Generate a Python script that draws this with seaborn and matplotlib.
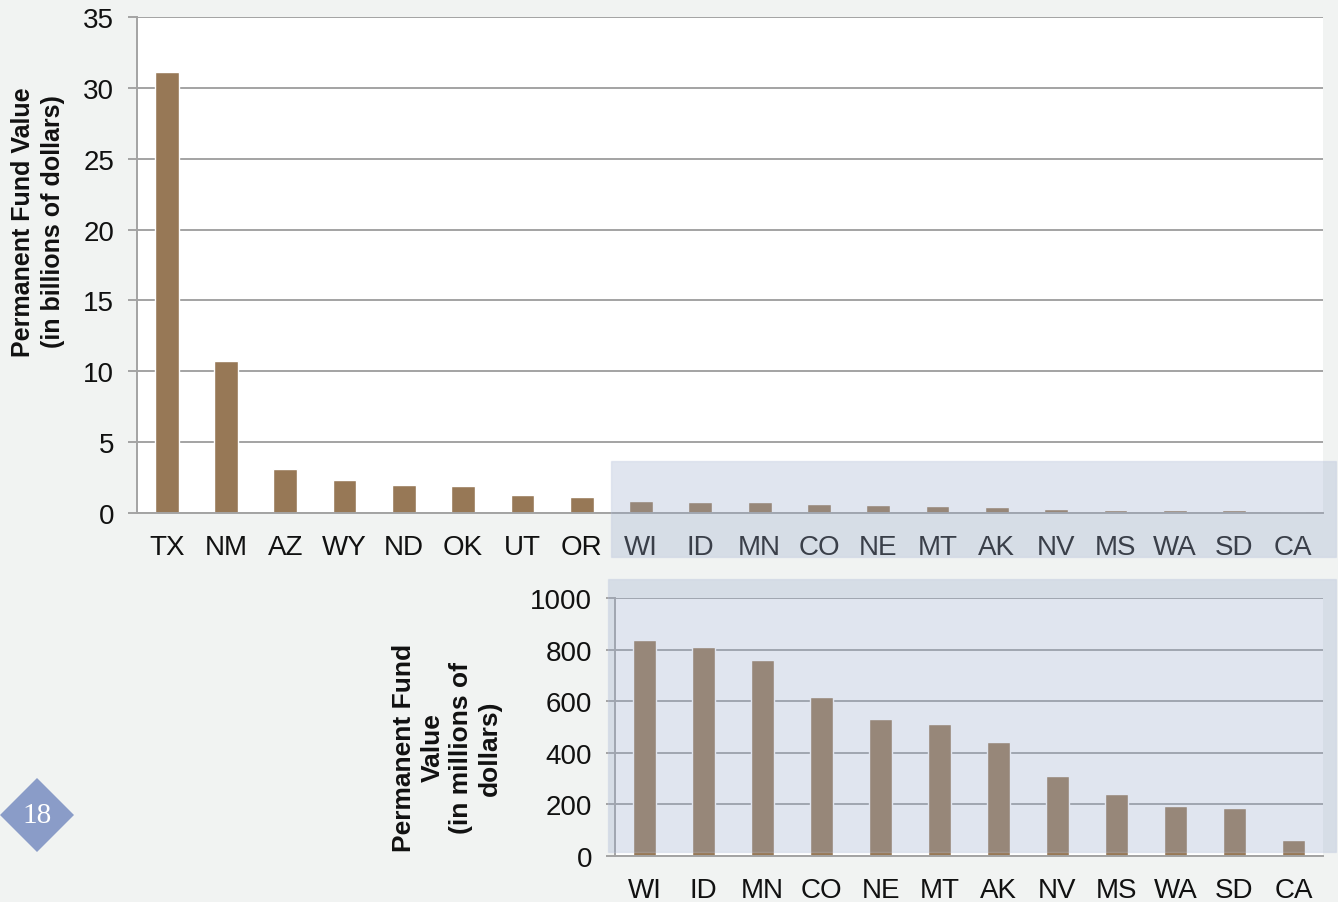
import matplotlib
matplotlib.use("Agg")
import matplotlib.pyplot as plt
import matplotlib.patches as mpatches
from matplotlib.ticker import FixedLocator
import numpy as np
import pandas as pd
import seaborn as sns

# --- data ---
top_states = ["TX", "NM", "AZ", "WY", "ND", "OK", "UT", "OR",
              "WI", "ID", "MN", "CO", "NE", "MT", "AK", "NV", "MS", "WA", "SD", "CA"]
top_values = [31.1, 10.7, 3.1, 2.3, 2.0, 1.9, 1.25, 1.15,
              0.837, 0.81, 0.76, 0.616, 0.532, 0.513, 0.443, 0.309, 0.241, 0.193, 0.187, 0.063]

bottom_states = ["WI", "ID", "MN", "CO", "NE", "MT", "AK", "NV", "MS", "WA", "SD", "CA"]
bottom_values = [837, 810, 760, 616, 532, 513, 443, 309, 241, 193, 187, 63]

top_ticks = [0, 5, 10, 15, 20, 25, 30, 35]
bottom_ticks = [0, 200, 400, 600, 800, 1000]

BG = "#f1f3f2"
BAR = "#977856"
GRID = "#a3a3a3"
OVERLAY = "#9aaccd"

sns.set_theme(style="white")
plt.rcParams["font.family"] = ["Liberation Sans", "DejaVu Sans"]

W, H = 1338, 903
fig = plt.figure(figsize=(W / 100, H / 100), dpi=100, facecolor=BG)


def px_axes(left, top, right, bottom):
    return fig.add_axes([left / W, (H - bottom) / H, (right - left) / W, (bottom - top) / H])


def style_axes(ax, n, ymax, ticks):
    ax.set_facecolor("white")
    ax.set_xlim(-0.5, n - 0.5)
    ax.set_ylim(0, ymax)
    ax.set_yticks(ticks)
    ax.yaxis.grid(True, color=GRID, linewidth=1.4)
    ax.set_axisbelow(True)
    for s in ["top", "right"]:
        ax.spines[s].set_visible(False)
    for s in ["left", "bottom"]:
        ax.spines[s].set_color(GRID)
        ax.spines[s].set_linewidth(1.4)
    ax.xaxis.set_minor_locator(FixedLocator(np.arange(-0.5, n, 1.0)))
    ax.tick_params(axis="x", which="major", length=0, pad=15, labelsize=20, labelcolor="#111111")
    ax.tick_params(axis="x", which="minor", length=4.5, width=1.4, color=GRID, direction="out")
    ax.tick_params(axis="y", length=6.5, width=1.4, color=GRID, direction="out",
                   pad=10, labelsize=20, labelcolor="#111111", left=True)
    ax.set_xlabel("")
    ax.set_ylabel("")


# top chart: all states, billions
ax1 = px_axes(137, 18, 1323, 514)
df_top = pd.DataFrame({"state": top_states, "value": top_values})
sns.barplot(data=df_top, x="state", y="value", color=BAR, saturation=1, width=0.4, ax=ax1)
style_axes(ax1, len(top_states), 35, top_ticks)

fig.text(38 / W, (H - 222) / H, "Permanent Fund Value\n(in billions of dollars)",
         rotation=90, ha="center", va="center", fontsize=18, fontweight="bold",
         multialignment="center", linespacing=1.3, color="#111111")

# bottom chart: smaller states, millions
ax2 = px_axes(615, 599, 1323, 857)
df_bot = pd.DataFrame({"state": bottom_states, "value": bottom_values})
sns.barplot(data=df_bot, x="state", y="value", color=BAR, saturation=1, width=0.4, ax=ax2)
style_axes(ax2, len(bottom_states), 1000, bottom_ticks)

fig.text(447 / W, (H - 748) / H, "Permanent Fund\nValue\n(in millions of\ndollars)",
         rotation=90, ha="center", va="center", fontsize=19, fontweight="bold",
         multialignment="center", linespacing=1.23, color="#111111")

# translucent highlight boxes
for (x0, y0, x1, y1) in [(611, 462, 1336, 558), (608, 580, 1336, 853)]:
    fig.add_artist(mpatches.Rectangle((x0 / W, (H - y1) / H), (x1 - x0) / W, (y1 - y0) / H,
                                      transform=fig.transFigure, facecolor=OVERLAY, alpha=0.3,
                                      edgecolor="#b8c3dc", linewidth=1, zorder=10))

# page number diamond
cx, cy, r = 37, 816, 37
diamond = mpatches.Polygon([((cx - r) / W, (H - cy) / H), (cx / W, (H - cy + r) / H),
                            ((cx + r) / W, (H - cy) / H), (cx / W, (H - cy - r) / H)],
                           closed=True, transform=fig.transFigure, facecolor="#8a9cc8",
                           edgecolor="none", zorder=5)
fig.add_artist(diamond)
fig.text(cx / W, (H - cy) / H, "18", ha="center", va="center", fontsize=21, color="white",
         family=["Liberation Serif", "DejaVu Serif"], zorder=6)

fig.savefig("out.png", dpi=100, facecolor=BG)
